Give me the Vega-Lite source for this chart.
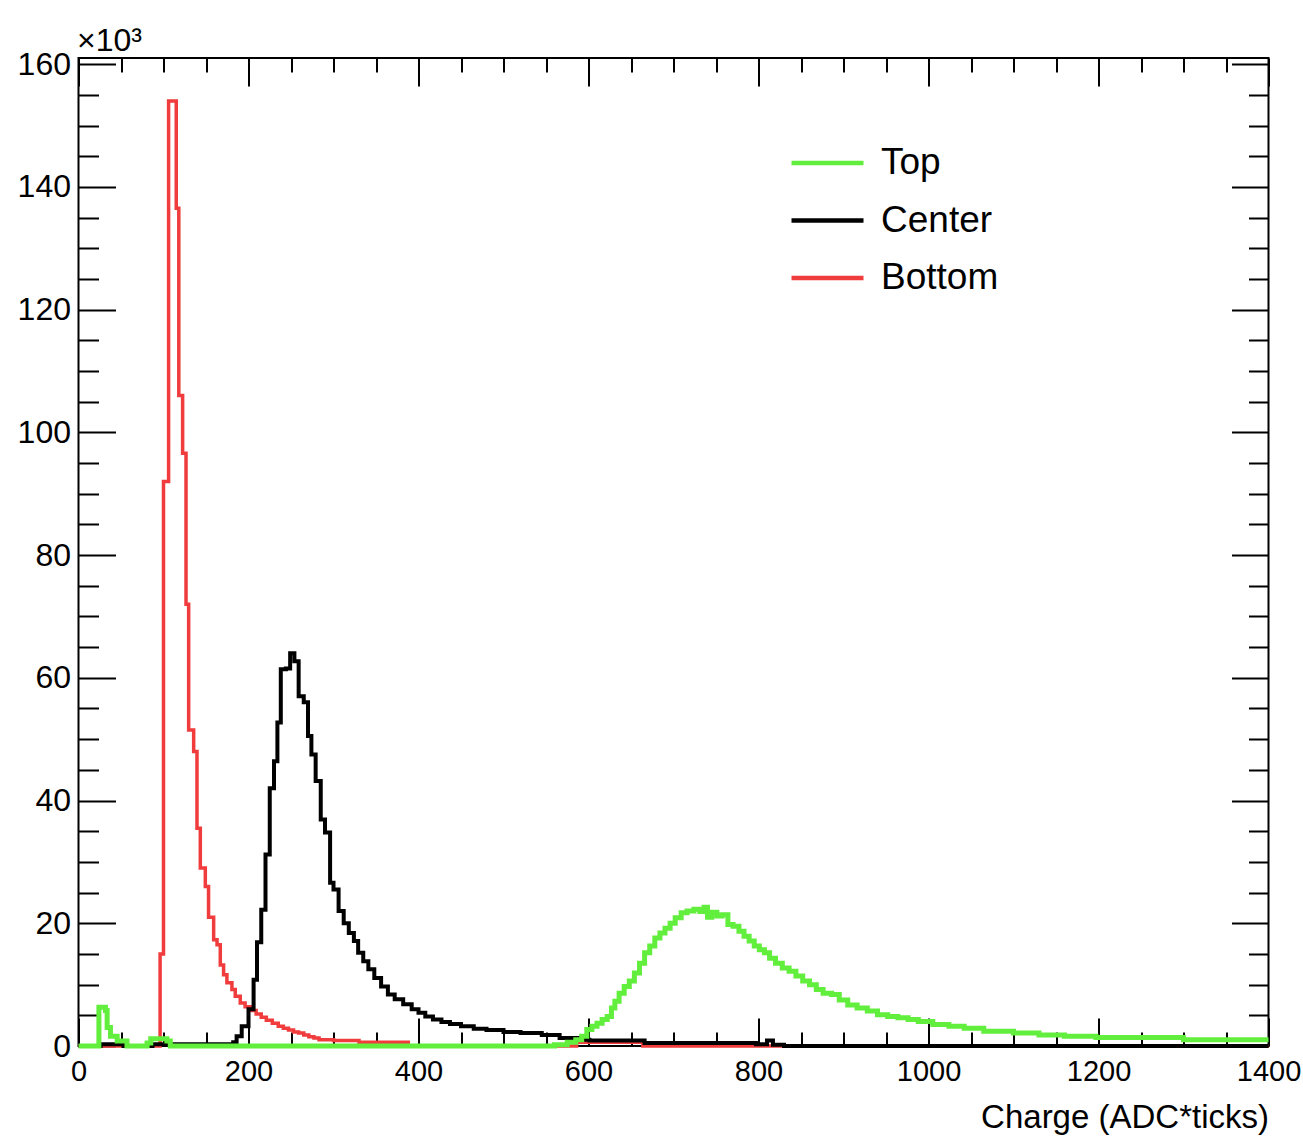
{
  "$schema": "https://vega.github.io/schema/vega-lite/v6.json",
  "width": 1190,
  "height": 988,
  "autosize": {"type": "none"},
  "padding": {"left": 78.5, "top": 58, "right": 34.5, "bottom": 95},
  "background": "white",
  "config": {
    "font": "Liberation Sans",
    "view": {"stroke": "black", "strokeWidth": 2},
    "axis": {"grid": false, "labelColor": "black", "titleColor": "black", "tickColor": "black"}
  },
  "datasets": {
    "h": [
      {"s": "Bottom", "x": 0, "y": 0},
      {"s": "Bottom", "x": 96, "y": 15},
      {"s": "Bottom", "x": 100, "y": 92},
      {"s": "Bottom", "x": 106, "y": 154},
      {"s": "Bottom", "x": 115, "y": 136.5},
      {"s": "Bottom", "x": 118, "y": 106},
      {"s": "Bottom", "x": 122.5, "y": 96.6},
      {"s": "Bottom", "x": 126.5, "y": 72},
      {"s": "Bottom", "x": 129.6, "y": 51.5},
      {"s": "Bottom", "x": 135.5, "y": 48},
      {"s": "Bottom", "x": 139.4, "y": 35.5},
      {"s": "Bottom", "x": 143.3, "y": 29},
      {"s": "Bottom", "x": 149.2, "y": 26},
      {"s": "Bottom", "x": 153, "y": 21},
      {"s": "Bottom", "x": 159, "y": 17.3},
      {"s": "Bottom", "x": 163, "y": 16.5},
      {"s": "Bottom", "x": 166.8, "y": 13.2},
      {"s": "Bottom", "x": 170.7, "y": 11.6},
      {"s": "Bottom", "x": 174.6, "y": 10.3},
      {"s": "Bottom", "x": 180.5, "y": 9.2},
      {"s": "Bottom", "x": 184.4, "y": 8.1},
      {"s": "Bottom", "x": 190.3, "y": 7},
      {"s": "Bottom", "x": 196, "y": 6.4},
      {"s": "Bottom", "x": 203, "y": 5.8},
      {"s": "Bottom", "x": 209, "y": 5.2},
      {"s": "Bottom", "x": 215, "y": 4.7},
      {"s": "Bottom", "x": 221, "y": 4.2},
      {"s": "Bottom", "x": 228, "y": 3.7},
      {"s": "Bottom", "x": 235, "y": 3.2},
      {"s": "Bottom", "x": 241, "y": 2.9},
      {"s": "Bottom", "x": 247, "y": 2.6},
      {"s": "Bottom", "x": 253, "y": 2.3},
      {"s": "Bottom", "x": 259, "y": 2.1},
      {"s": "Bottom", "x": 265, "y": 1.8},
      {"s": "Bottom", "x": 271, "y": 1.5},
      {"s": "Bottom", "x": 277, "y": 1.3},
      {"s": "Bottom", "x": 283, "y": 1.0},
      {"s": "Bottom", "x": 300, "y": 0.9},
      {"s": "Bottom", "x": 330, "y": 0.6},
      {"s": "Bottom", "x": 388, "y": 0},
      {"s": "Bottom", "x": 586, "y": 0.6},
      {"s": "Bottom", "x": 664, "y": 0},
      {"s": "Bottom", "x": 1400, "y": 0},

      {"s": "Center", "x": 0, "y": 0},
      {"s": "Center", "x": 26, "y": 0.3},
      {"s": "Center", "x": 53, "y": 0},
      {"s": "Center", "x": 87, "y": 0.3},
      {"s": "Center", "x": 182, "y": 0.6},
      {"s": "Center", "x": 186, "y": 1.6},
      {"s": "Center", "x": 192, "y": 3.2},
      {"s": "Center", "x": 200, "y": 6},
      {"s": "Center", "x": 206, "y": 10.8},
      {"s": "Center", "x": 210, "y": 16.9},
      {"s": "Center", "x": 215, "y": 22.2},
      {"s": "Center", "x": 220, "y": 31.2},
      {"s": "Center", "x": 225, "y": 42},
      {"s": "Center", "x": 230, "y": 46.4},
      {"s": "Center", "x": 234, "y": 52.7},
      {"s": "Center", "x": 238, "y": 61.4},
      {"s": "Center", "x": 244, "y": 61.5},
      {"s": "Center", "x": 249, "y": 64},
      {"s": "Center", "x": 254, "y": 62.7},
      {"s": "Center", "x": 259, "y": 57},
      {"s": "Center", "x": 265, "y": 56},
      {"s": "Center", "x": 270, "y": 50.5},
      {"s": "Center", "x": 274, "y": 47.5},
      {"s": "Center", "x": 279, "y": 43.2},
      {"s": "Center", "x": 285, "y": 36.9},
      {"s": "Center", "x": 290, "y": 34.8},
      {"s": "Center", "x": 296, "y": 26.6},
      {"s": "Center", "x": 300, "y": 25.5},
      {"s": "Center", "x": 306, "y": 22},
      {"s": "Center", "x": 312, "y": 20},
      {"s": "Center", "x": 318, "y": 18.4},
      {"s": "Center", "x": 324, "y": 17.1},
      {"s": "Center", "x": 329, "y": 15.2},
      {"s": "Center", "x": 335, "y": 13.8},
      {"s": "Center", "x": 341, "y": 12.5},
      {"s": "Center", "x": 348, "y": 11.1},
      {"s": "Center", "x": 356, "y": 9.7},
      {"s": "Center", "x": 364, "y": 8.4},
      {"s": "Center", "x": 372, "y": 7.6},
      {"s": "Center", "x": 382, "y": 6.8},
      {"s": "Center", "x": 392, "y": 6.0},
      {"s": "Center", "x": 400, "y": 5.4},
      {"s": "Center", "x": 408, "y": 4.8},
      {"s": "Center", "x": 417, "y": 4.3},
      {"s": "Center", "x": 427, "y": 3.9},
      {"s": "Center", "x": 437, "y": 3.6},
      {"s": "Center", "x": 450, "y": 3.2},
      {"s": "Center", "x": 465, "y": 2.8},
      {"s": "Center", "x": 480, "y": 2.6},
      {"s": "Center", "x": 500, "y": 2.3},
      {"s": "Center", "x": 520, "y": 2.1},
      {"s": "Center", "x": 545, "y": 1.8},
      {"s": "Center", "x": 566, "y": 1.3},
      {"s": "Center", "x": 590, "y": 1.0},
      {"s": "Center", "x": 601, "y": 0.9},
      {"s": "Center", "x": 666, "y": 0.5},
      {"s": "Center", "x": 797, "y": 0.3},
      {"s": "Center", "x": 810, "y": 0.9},
      {"s": "Center", "x": 817, "y": 0.2},
      {"s": "Center", "x": 830, "y": 0},
      {"s": "Center", "x": 1400, "y": 0},

      {"s": "Top", "x": 0, "y": 0},
      {"s": "Top", "x": 24, "y": 6.3},
      {"s": "Top", "x": 31.7, "y": 5.8},
      {"s": "Top", "x": 33.7, "y": 3},
      {"s": "Top", "x": 37.6, "y": 1.6},
      {"s": "Top", "x": 45.5, "y": 0.8},
      {"s": "Top", "x": 57, "y": 0},
      {"s": "Top", "x": 80.7, "y": 0.5},
      {"s": "Top", "x": 85, "y": 1.2},
      {"s": "Top", "x": 104, "y": 0.8},
      {"s": "Top", "x": 108, "y": 0},
      {"s": "Top", "x": 560, "y": 0.2},
      {"s": "Top", "x": 575, "y": 0.6},
      {"s": "Top", "x": 585, "y": 1.0},
      {"s": "Top", "x": 592, "y": 1.6},
      {"s": "Top", "x": 598, "y": 2.7},
      {"s": "Top", "x": 604, "y": 3.2},
      {"s": "Top", "x": 610, "y": 3.7},
      {"s": "Top", "x": 616, "y": 4.3},
      {"s": "Top", "x": 622, "y": 4.8},
      {"s": "Top", "x": 627, "y": 6.2},
      {"s": "Top", "x": 631, "y": 7.3},
      {"s": "Top", "x": 636, "y": 8.6},
      {"s": "Top", "x": 642, "y": 9.7},
      {"s": "Top", "x": 648, "y": 10.6},
      {"s": "Top", "x": 654, "y": 11.9},
      {"s": "Top", "x": 660, "y": 13.5},
      {"s": "Top", "x": 666, "y": 15.2},
      {"s": "Top", "x": 672, "y": 16.3},
      {"s": "Top", "x": 678, "y": 17.6},
      {"s": "Top", "x": 684, "y": 18.4},
      {"s": "Top", "x": 690, "y": 19.2},
      {"s": "Top", "x": 696, "y": 20.0},
      {"s": "Top", "x": 702, "y": 20.9},
      {"s": "Top", "x": 709, "y": 21.7},
      {"s": "Top", "x": 716, "y": 22.0},
      {"s": "Top", "x": 724, "y": 22.3},
      {"s": "Top", "x": 731, "y": 21.9},
      {"s": "Top", "x": 736, "y": 22.6},
      {"s": "Top", "x": 740, "y": 21.0},
      {"s": "Top", "x": 745, "y": 21.8},
      {"s": "Top", "x": 751, "y": 21.2},
      {"s": "Top", "x": 757, "y": 21.4},
      {"s": "Top", "x": 764, "y": 19.8},
      {"s": "Top", "x": 770, "y": 19.5},
      {"s": "Top", "x": 777, "y": 18.7},
      {"s": "Top", "x": 783, "y": 17.9},
      {"s": "Top", "x": 789, "y": 17.1},
      {"s": "Top", "x": 795, "y": 16.3},
      {"s": "Top", "x": 801, "y": 15.7},
      {"s": "Top", "x": 807, "y": 15.2},
      {"s": "Top", "x": 813, "y": 14.3},
      {"s": "Top", "x": 820, "y": 13.5},
      {"s": "Top", "x": 828, "y": 12.7},
      {"s": "Top", "x": 836, "y": 12.2},
      {"s": "Top", "x": 844, "y": 11.4},
      {"s": "Top", "x": 852, "y": 10.6},
      {"s": "Top", "x": 860, "y": 10.0},
      {"s": "Top", "x": 868, "y": 9.2},
      {"s": "Top", "x": 876, "y": 8.6},
      {"s": "Top", "x": 886, "y": 8.4},
      {"s": "Top", "x": 895, "y": 7.5},
      {"s": "Top", "x": 905, "y": 6.7},
      {"s": "Top", "x": 916, "y": 6.2},
      {"s": "Top", "x": 928, "y": 5.7},
      {"s": "Top", "x": 940, "y": 5.1},
      {"s": "Top", "x": 952, "y": 4.8},
      {"s": "Top", "x": 964, "y": 4.6},
      {"s": "Top", "x": 976, "y": 4.3},
      {"s": "Top", "x": 988, "y": 4.0},
      {"s": "Top", "x": 1005, "y": 3.5},
      {"s": "Top", "x": 1024, "y": 3.2},
      {"s": "Top", "x": 1042, "y": 2.9},
      {"s": "Top", "x": 1065, "y": 2.4},
      {"s": "Top", "x": 1100, "y": 2.1},
      {"s": "Top", "x": 1130, "y": 1.8},
      {"s": "Top", "x": 1160, "y": 1.6},
      {"s": "Top", "x": 1197, "y": 1.4},
      {"s": "Top", "x": 1300, "y": 1.0},
      {"s": "Top", "x": 1400, "y": 1.0}
    ]
  },
  "data": {"name": "h"},
  "layer": [
    {
      "transform": [{"filter": "datum.s === 'Bottom'"}],
      "mark": {"type": "line", "interpolate": "step-after", "strokeWidth": 3.5},
      "encoding": {
        "x": {"field": "x", "type": "quantitative", "scale": {"domain": [0, 1400], "nice": false, "zero": false},
          "axis": {"orient": "bottom", "values": [0, 200, 400, 600, 800, 1000, 1200, 1400], "format": "d", "ticks": false, "domain": false,
            "labelFont": "Liberation Sans", "labelFontSize": 29, "labelPadding": 11, "labelFlush": false,
            "title": "Charge (ADC*ticks)", "titleFont": "Liberation Sans", "titleFontSize": 33, "titleFontWeight": "normal",
            "titleX": 1190, "titleY": 81, "titleAlign": "right", "titleBaseline": "alphabetic", "titleAngle": 0}},
        "y": {"field": "y", "type": "quantitative", "scale": {"domain": [0, 161], "nice": false},
          "axis": {"orient": "left", "values": [0, 20, 40, 60, 80, 100, 120, 140, 160], "format": "d", "ticks": false, "domain": false,
            "labelFont": "Liberation Sans", "labelFontSize": 32, "labelPadding": 8,
            "title": "×10³", "titleFont": "Liberation Sans", "titleFontSize": 32, "titleFontWeight": "normal",
            "titleX": -2, "titleY": -8, "titleAlign": "left", "titleBaseline": "alphabetic", "titleAngle": 0}},
        "color": {"field": "s", "type": "nominal",
          "scale": {"domain": ["Top", "Center", "Bottom"], "range": ["#62ee3c", "#000000", "#f03c3c"]},
          "legend": {"orient": "none", "legendX": 710.5, "legendY": 81, "title": null, "symbolType": "stroke", "symbolSize": 5184,
            "symbolStrokeWidth": 4.5, "labelFontSize": 37, "labelFont": "Liberation Sans",
            "labelOffset": 15, "clipHeight": 48, "rowPadding": 9.5, "padding": 0, "labelColor": "black", "labelLimit": 0}}
      }
    },
    {
      "transform": [{"filter": "datum.s === 'Center'"}],
      "mark": {"type": "line", "interpolate": "step-after", "strokeWidth": 4},
      "encoding": {
        "x": {"field": "x", "type": "quantitative", "scale": {"domain": [0, 1400], "nice": false, "zero": false}, "axis": null},
        "y": {"field": "y", "type": "quantitative", "scale": {"domain": [0, 161], "nice": false}, "axis": null},
        "color": {"field": "s", "type": "nominal"}
      }
    },
    {
      "transform": [{"filter": "datum.s === 'Top'"}],
      "mark": {"type": "line", "interpolate": "step-after", "strokeWidth": 5},
      "encoding": {
        "x": {"field": "x", "type": "quantitative", "scale": {"domain": [0, 1400], "nice": false, "zero": false}, "axis": null},
        "y": {"field": "y", "type": "quantitative", "scale": {"domain": [0, 161], "nice": false}, "axis": null},
        "color": {"field": "s", "type": "nominal"}
      }
    },
    {
      "mark": {"type": "point", "opacity": 0},
      "encoding": {
        "x": {"field": "x", "type": "quantitative", "scale": {"domain": [0, 1400], "nice": false, "zero": false},
          "axis": {"orient": "bottom", "values": [0, 200, 400, 600, 800, 1000, 1200, 1400], "labels": false, "domain": false, "ticks": true, "tickSize": -28, "tickWidth": 2, "title": null}},
        "y": {"field": "y", "type": "quantitative", "scale": {"domain": [0, 161], "nice": false},
          "axis": {"orient": "left", "values": [0, 20, 40, 60, 80, 100, 120, 140, 160], "labels": false, "domain": false, "ticks": true, "tickSize": -37, "tickWidth": 2, "title": null}}
      }
    },
    {
      "mark": {"type": "point", "opacity": 0},
      "encoding": {
        "x": {"field": "x", "type": "quantitative", "scale": {"domain": [0, 1400], "nice": false, "zero": false},
          "axis": {"orient": "bottom", "values": [50, 100, 150, 250, 300, 350, 450, 500, 550, 650, 700, 750, 850, 900, 950, 1050, 1100, 1150, 1250, 1300, 1350], "labels": false, "domain": false, "ticks": true, "tickSize": -14, "tickWidth": 2, "title": null}},
        "y": {"field": "y", "type": "quantitative", "scale": {"domain": [0, 161], "nice": false},
          "axis": {"orient": "left", "values": [5, 10, 15, 25, 30, 35, 45, 50, 55, 65, 70, 75, 85, 90, 95, 105, 110, 115, 125, 130, 135, 145, 150, 155], "labels": false, "domain": false, "ticks": true, "tickSize": -20, "tickWidth": 2, "title": null}}
      }
    },
    {
      "mark": {"type": "point", "opacity": 0},
      "encoding": {
        "x": {"field": "x", "type": "quantitative", "scale": {"domain": [0, 1400], "nice": false, "zero": false},
          "axis": {"orient": "top", "values": [0, 200, 400, 600, 800, 1000, 1200, 1400], "labels": false, "domain": false, "ticks": true, "tickSize": -28, "tickWidth": 2, "title": null}},
        "y": {"field": "y", "type": "quantitative", "scale": {"domain": [0, 161], "nice": false},
          "axis": {"orient": "right", "values": [0, 20, 40, 60, 80, 100, 120, 140, 160], "labels": false, "domain": false, "ticks": true, "tickSize": -37, "tickWidth": 2, "title": null}}
      }
    },
    {
      "mark": {"type": "point", "opacity": 0},
      "encoding": {
        "x": {"field": "x", "type": "quantitative", "scale": {"domain": [0, 1400], "nice": false, "zero": false},
          "axis": {"orient": "top", "values": [50, 100, 150, 250, 300, 350, 450, 500, 550, 650, 700, 750, 850, 900, 950, 1050, 1100, 1150, 1250, 1300, 1350], "labels": false, "domain": false, "ticks": true, "tickSize": -14, "tickWidth": 2, "title": null}},
        "y": {"field": "y", "type": "quantitative", "scale": {"domain": [0, 161], "nice": false},
          "axis": {"orient": "right", "values": [5, 10, 15, 25, 30, 35, 45, 50, 55, 65, 70, 75, 85, 90, 95, 105, 110, 115, 125, 130, 135, 145, 150, 155], "labels": false, "domain": false, "ticks": true, "tickSize": -20, "tickWidth": 2, "title": null}}
      }
    }
  ],
  "resolve": {"axis": {"x": "independent", "y": "independent"}}
}
